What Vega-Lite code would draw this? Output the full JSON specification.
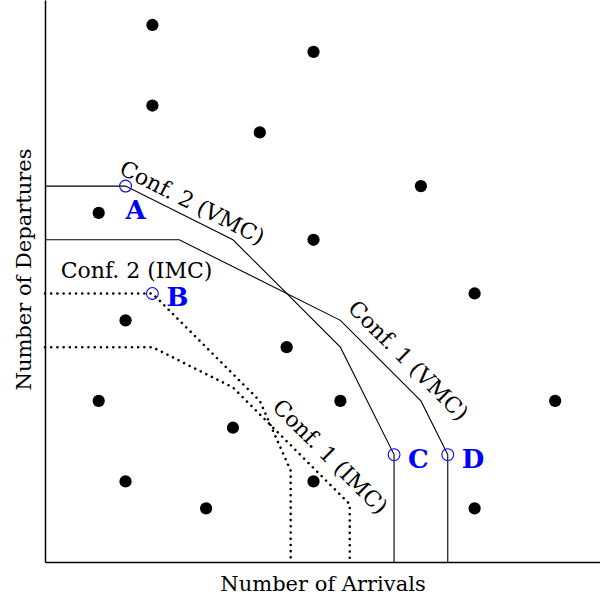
{
  "$schema": "https://vega.github.io/schema/vega-lite/v6.json",
  "width": 555,
  "height": 562,
  "autosize": {"type": "none"},
  "padding": {"left": 45, "top": 0, "right": 0, "bottom": 36},
  "background": "white",
  "config": {
    "view": {"stroke": null},
    "axis": {
      "domainColor": "black",
      "domainWidth": 1.5,
      "ticks": false,
      "labels": false,
      "grid": false,
      "titleFont": "DejaVu Serif",
      "titleFontSize": 21,
      "titleFontWeight": "normal",
      "titleColor": "black"
    }
  },
  "datasets": {
    "points": [
      {"x": 4, "y": 20}, {"x": 10, "y": 19}, {"x": 4, "y": 17}, {"x": 8, "y": 16},
      {"x": 14, "y": 14}, {"x": 2, "y": 13}, {"x": 10, "y": 12}, {"x": 16, "y": 10},
      {"x": 3, "y": 9}, {"x": 9, "y": 8}, {"x": 2, "y": 6}, {"x": 11, "y": 6},
      {"x": 19, "y": 6}, {"x": 7, "y": 5}, {"x": 3, "y": 3}, {"x": 10, "y": 3},
      {"x": 6, "y": 2}, {"x": 16, "y": 2}
    ],
    "vmc": [
      {"conf": "Conf. 2 (VMC)", "order": 1, "x": 0, "y": 14},
      {"conf": "Conf. 2 (VMC)", "order": 2, "x": 3, "y": 14},
      {"conf": "Conf. 2 (VMC)", "order": 3, "x": 7, "y": 12},
      {"conf": "Conf. 2 (VMC)", "order": 4, "x": 11, "y": 8},
      {"conf": "Conf. 2 (VMC)", "order": 5, "x": 13, "y": 4},
      {"conf": "Conf. 2 (VMC)", "order": 6, "x": 13, "y": 0},
      {"conf": "Conf. 1 (VMC)", "order": 1, "x": 0, "y": 12},
      {"conf": "Conf. 1 (VMC)", "order": 2, "x": 5, "y": 12},
      {"conf": "Conf. 1 (VMC)", "order": 3, "x": 11, "y": 9},
      {"conf": "Conf. 1 (VMC)", "order": 4, "x": 14, "y": 6},
      {"conf": "Conf. 1 (VMC)", "order": 5, "x": 15, "y": 4},
      {"conf": "Conf. 1 (VMC)", "order": 6, "x": 15, "y": 0}
    ],
    "imc": [
      {"conf": "Conf. 2 (IMC)", "order": 1, "x": 0, "y": 10},
      {"conf": "Conf. 2 (IMC)", "order": 2, "x": 4, "y": 10},
      {"conf": "Conf. 2 (IMC)", "order": 3, "x": 8, "y": 6},
      {"conf": "Conf. 2 (IMC)", "order": 4, "x": 9.15, "y": 3.4},
      {"conf": "Conf. 2 (IMC)", "order": 5, "x": 9.15, "y": 0},
      {"conf": "Conf. 1 (IMC)", "order": 1, "x": 0, "y": 8},
      {"conf": "Conf. 1 (IMC)", "order": 2, "x": 4, "y": 8},
      {"conf": "Conf. 1 (IMC)", "order": 3, "x": 7, "y": 6.5},
      {"conf": "Conf. 1 (IMC)", "order": 4, "x": 11.35, "y": 2.15},
      {"conf": "Conf. 1 (IMC)", "order": 5, "x": 11.35, "y": 0}
    ],
    "marks": [
      {"label": "A", "x": 3, "y": 14},
      {"label": "B", "x": 4, "y": 10},
      {"label": "C", "x": 13, "y": 4},
      {"label": "D", "x": 15, "y": 4}
    ],
    "labels": [
      {"text": "Conf. 2 (VMC)", "group": "a27", "x": 5.475, "y": 13.37},
      {"text": "Conf. 1 (VMC)", "group": "a45", "x": 13.52, "y": 7.49},
      {"text": "Conf. 1 (IMC)", "group": "a45", "x": 10.61, "y": 3.91},
      {"text": "Conf. 2 (IMC)", "group": "h", "x": 3.41, "y": 10.58}
    ]
  },
  "encoding": {
    "x": {"field": "x", "type": "quantitative", "scale": {"domain": [0, 20.67], "nice": false, "zero": false},
      "axis": {"title": "Number of Arrivals", "titleY": 28, "titleBaseline": "alphabetic"}},
    "y": {"field": "y", "type": "quantitative", "scale": {"domain": [0, 20.93], "nice": false, "zero": false},
      "axis": {"title": "Number of Departures", "titleX": -15, "titleY": 269, "titleAngle": 270, "titleBaseline": "alphabetic", "titleAlign": "center"}}
  },
  "layer": [
    {
      "data": {"name": "vmc"},
      "mark": {"type": "line", "color": "black", "strokeWidth": 1.1},
      "encoding": {"detail": {"field": "conf"}, "order": {"field": "order", "type": "quantitative"}}
    },
    {
      "data": {"name": "imc"},
      "mark": {"type": "line", "color": "black", "strokeWidth": 2.6, "strokeCap": "round", "strokeDash": [0.01, 6.2]},
      "encoding": {"detail": {"field": "conf"}, "order": {"field": "order", "type": "quantitative"}}
    },
    {
      "data": {"name": "points"},
      "mark": {"type": "circle", "color": "black", "opacity": 1, "size": 150}
    },
    {
      "data": {"name": "marks"},
      "mark": {"type": "point", "shape": "circle", "filled": false, "stroke": "#0000ff", "strokeWidth": 1.1, "size": 140, "opacity": 1}
    },
    {
      "data": {"name": "marks"},
      "transform": [{"filter": "datum.label === 'A'"}],
      "mark": {"type": "text", "font": "DejaVu Serif", "fontWeight": "bold", "fontSize": 26, "color": "#0000ff", "align": "left", "baseline": "alphabetic", "dx": 0, "dy": 33},
      "encoding": {"text": {"field": "label"}}
    },
    {
      "data": {"name": "marks"},
      "transform": [{"filter": "datum.label !== 'A'"}],
      "mark": {"type": "text", "font": "DejaVu Serif", "fontWeight": "bold", "fontSize": 26, "color": "#0000ff", "align": "left", "baseline": "alphabetic", "dx": 14, "dy": 13},
      "encoding": {"text": {"field": "label"}}
    },
    {
      "data": {"name": "labels"},
      "transform": [{"filter": "datum.group === 'h'"}],
      "mark": {"type": "text", "font": "DejaVu Serif", "fontSize": 22, "color": "black", "align": "center", "baseline": "alphabetic"},
      "encoding": {"text": {"field": "text"}}
    },
    {
      "data": {"name": "labels"},
      "transform": [{"filter": "datum.group === 'a27'"}],
      "mark": {"type": "text", "font": "DejaVu Serif", "fontSize": 22, "color": "black", "align": "center", "baseline": "middle", "angle": 27},
      "encoding": {"text": {"field": "text"}}
    },
    {
      "data": {"name": "labels"},
      "transform": [{"filter": "datum.group === 'a45'"}],
      "mark": {"type": "text", "font": "DejaVu Serif", "fontSize": 22, "color": "black", "align": "center", "baseline": "middle", "angle": 45},
      "encoding": {"text": {"field": "text"}}
    }
  ]
}
